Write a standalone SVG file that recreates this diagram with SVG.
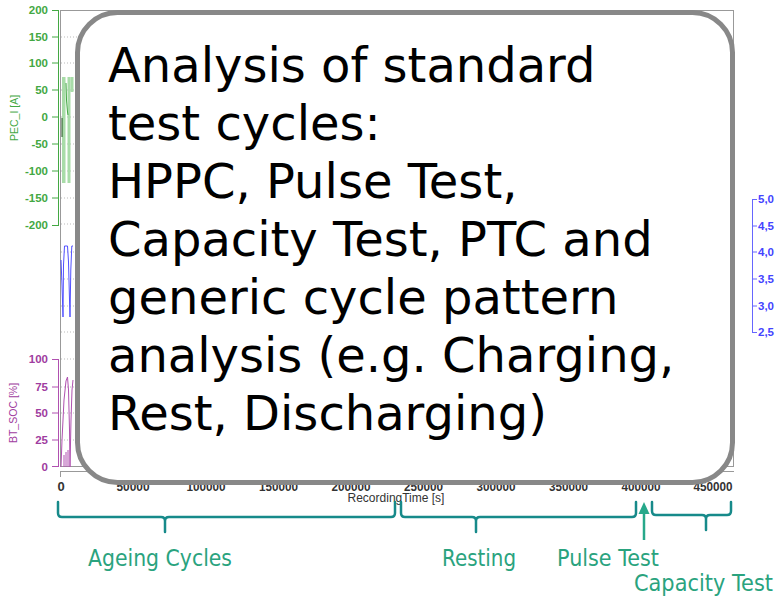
<svg xmlns="http://www.w3.org/2000/svg" width="781" height="599" viewBox="0 0 781 599">
  <style>
    .tick { font-family: "Liberation Sans", Arial, sans-serif; font-size: 11.5px; font-weight: bold; }
    .xtick { font-family: "Liberation Sans", Arial, sans-serif; font-size: 13px; font-weight: bold; fill: #333333; }
    .grid { stroke: #bbbbbb; stroke-width: 1; stroke-dasharray: 1 2; fill: none; }
    .frame { stroke: #999999; stroke-width: 1; fill: none; }
    .brace { stroke: #178a8a; stroke-width: 2.5; fill: none; stroke-linecap: round; stroke-linejoin: round; }
    .lbl { font-family: "DejaVu Sans", Verdana, sans-serif; font-size: 23px; fill: #2aa37e; }
    .big { font-family: "DejaVu Sans", Verdana, sans-serif; font-size: 48px; fill: #000000; }
  </style>

  <rect width="781" height="599" fill="#ffffff"/>

  <!-- chart background: frame and grid -->
  <g id="chart">
    <rect class="frame" x="60.5" y="10.5" width="673" height="456"/>
    <g class="grid">
      <path d="M61 37H733M61 63H733M61 90H733M61 117H733M61 144H733M61 171H733M61 198H733M61 224H733"/>
      <path d="M61 252H733M61 279H733M61 306H733M61 332H733M61 359H733M61 387H733M61 413H733M61 440H733"/>
    </g>

    <!-- current axis (left, top) -->
    <g id="axis-current" fill="#43a843" stroke="#43a843">
      <path d="M58.5 10V226M52 10.5H58.5M52 37H58.5M52 63H58.5M52 90H58.5M52 117H58.5M52 144H58.5M52 171H58.5M52 198H58.5M52 225.5H58.5" fill="none" stroke-width="1"/>
      <g class="tick" text-anchor="end" stroke="none">
        <text x="48" y="14">200</text>
        <text x="48" y="41">150</text>
        <text x="48" y="67">100</text>
        <text x="48" y="94">50</text>
        <text x="48" y="121">0</text>
        <text x="48" y="148">-50</text>
        <text x="48" y="175">-100</text>
        <text x="48" y="202">-150</text>
        <text x="48" y="229">-200</text>
      </g>
      <text transform="translate(18 118) rotate(-90)" text-anchor="middle" stroke="none" font-family="Liberation Sans, Arial, sans-serif" font-size="10.5">PEC_I [A]</text>
    </g>

    <!-- current trace -->
    <g id="trace-current">
      <rect x="62" y="77" width="3.5" height="106" fill="#a8dca8"/>
      <rect x="67.5" y="77" width="3" height="106" fill="#a8dca8"/>
      <rect x="70.5" y="77" width="3" height="15" fill="#a8dca8"/>
      <path d="M66 83L66.5 100L67.5 112L68 115" stroke="#43a843" stroke-width="1" fill="none"/>
      <path d="M62 118V137" stroke="#1c4a1c" stroke-width="1" fill="none"/>
    </g>

    <!-- voltage trace -->
    <path id="trace-voltage" d="M61 260L62 285L63 317L63.5 265L64.5 246H67.5L68.5 262L69.5 300L70 317L70.8 270L71.8 246H73" stroke="#5050ff" stroke-width="1" fill="none"/>

    <!-- voltage axis (right) -->
    <g id="axis-voltage" fill="#4444ff" stroke="#6666ff">
      <path d="M752.5 199V333M752.5 199.5H757M752.5 226H757M752.5 252H757M752.5 279H757M752.5 306H757M752.5 332.5H757" fill="none" stroke-width="1"/>
      <g class="tick" stroke="none">
        <text x="758" y="203">5,0</text>
        <text x="758" y="230">4,5</text>
        <text x="758" y="256">4,0</text>
        <text x="758" y="283">3,5</text>
        <text x="758" y="310">3,0</text>
        <text x="758" y="336">2,5</text>
      </g>
    </g>

    <!-- state of charge axis (left, bottom) -->
    <g id="axis-soc" fill="#a03ca0" stroke="#b050b0">
      <path d="M58.5 359V467M52 359.5H58.5M52 387H58.5M52 413H58.5M52 440H58.5M52 466.5H58.5" fill="none" stroke-width="1"/>
      <g class="tick" text-anchor="end" stroke="none">
        <text x="48" y="363">100</text>
        <text x="48" y="391">75</text>
        <text x="48" y="417">50</text>
        <text x="48" y="444">25</text>
        <text x="48" y="471">0</text>
      </g>
      <text transform="translate(17 413) rotate(-90)" text-anchor="middle" stroke="none" font-family="Liberation Sans, Arial, sans-serif" font-size="10.5">BT_SOC [%]</text>
    </g>

    <!-- state of charge trace -->
    <path id="trace-soc" d="M61 467L62 440L64 400L66 381L67.5 377L68.5 390L69.5 430L70 467L71 420L72 390L73 380M64 467V455M66 467V452M68 467V450" stroke="#b050b0" stroke-width="1" fill="none"/>

    <!-- time axis -->
    <g id="axis-time">
      <path d="M60 471.5H734M60.5 471V477M133 471V477M206 471V477M278.5 471V477M351 471V477M423.5 471V477M496 471V477M568.5 471V477M641 471V477M713 471V477" stroke="#999999" stroke-width="1" fill="none"/>
      <g class="xtick" text-anchor="middle">
        <text x="61" y="491">0</text>
        <text x="133" y="491" textLength="33" lengthAdjust="spacingAndGlyphs">50000</text>
        <text x="206" y="491" textLength="39" lengthAdjust="spacingAndGlyphs">100000</text>
        <text x="278.5" y="491" textLength="39" lengthAdjust="spacingAndGlyphs">150000</text>
        <text x="351" y="491" textLength="39" lengthAdjust="spacingAndGlyphs">200000</text>
        <text x="423.5" y="491" textLength="39" lengthAdjust="spacingAndGlyphs">250000</text>
        <text x="496" y="491" textLength="39" lengthAdjust="spacingAndGlyphs">300000</text>
        <text x="568.5" y="491" textLength="39" lengthAdjust="spacingAndGlyphs">350000</text>
        <text x="641" y="491" textLength="39" lengthAdjust="spacingAndGlyphs">400000</text>
        <text x="713" y="491" textLength="39" lengthAdjust="spacingAndGlyphs">450000</text>
      </g>
      <text x="396" y="502" text-anchor="middle" fill="#333333" font-family="Liberation Sans, Arial, sans-serif" font-size="12">RecordingTime [s]</text>
    </g>
  </g>

  <!-- callout box -->
  <g id="callout">
    <rect x="77.5" y="12.5" width="655" height="470" rx="40" ry="40" fill="#ffffff" stroke="#888888" stroke-width="5"/>
    <text class="big">
      <tspan x="108" y="82">Analysis of standard</tspan>
      <tspan x="108" y="140">test cycles:</tspan>
      <tspan x="108" y="198">HPPC, Pulse Test,</tspan>
      <tspan x="108" y="256">Capacity Test, PTC and</tspan>
      <tspan x="108" y="314">generic cycle pattern</tspan>
      <tspan x="108" y="372">analysis (e.g. Charging,</tspan>
      <tspan x="108" y="430">Rest, Discharging)</tspan>
    </text>
  </g>

  <!-- phase markers -->
  <g id="connectors">
    <path class="brace" d="M58 502V513Q58 517 62 517H161Q165 517 165 521V532M165 521Q165 517 169 517H391Q395 517 395 513V502"/>
    <path class="brace" d="M401 502V513Q401 517 405 517H472Q476 517 476 521V532M476 521Q476 517 480 517H632Q636 517 636 513V502"/>
    <path class="brace" d="M652 502V511Q652 515 656 515H702Q706 515 706 519V530M706 519Q706 515 710 515H727Q731 515 731 511V502"/>
    <path d="M644 540V512" stroke="#27a88a" stroke-width="2.5" fill="none"/>
    <polygon points="644,502 638.5,514 649.5,514" fill="#27a88a"/>
  </g>

  <g id="label-ageing"><text class="lbl" x="88" y="566" textLength="144" lengthAdjust="spacingAndGlyphs">Ageing Cycles</text></g>
  <g id="label-resting"><text class="lbl" x="442" y="566" textLength="74" lengthAdjust="spacingAndGlyphs">Resting</text></g>
  <g id="label-pulse"><text class="lbl" x="557" y="566" textLength="102" lengthAdjust="spacingAndGlyphs">Pulse Test</text></g>
  <g id="label-capacity"><text class="lbl" x="634" y="591" textLength="139" lengthAdjust="spacingAndGlyphs">Capacity Test</text></g>
</svg>
